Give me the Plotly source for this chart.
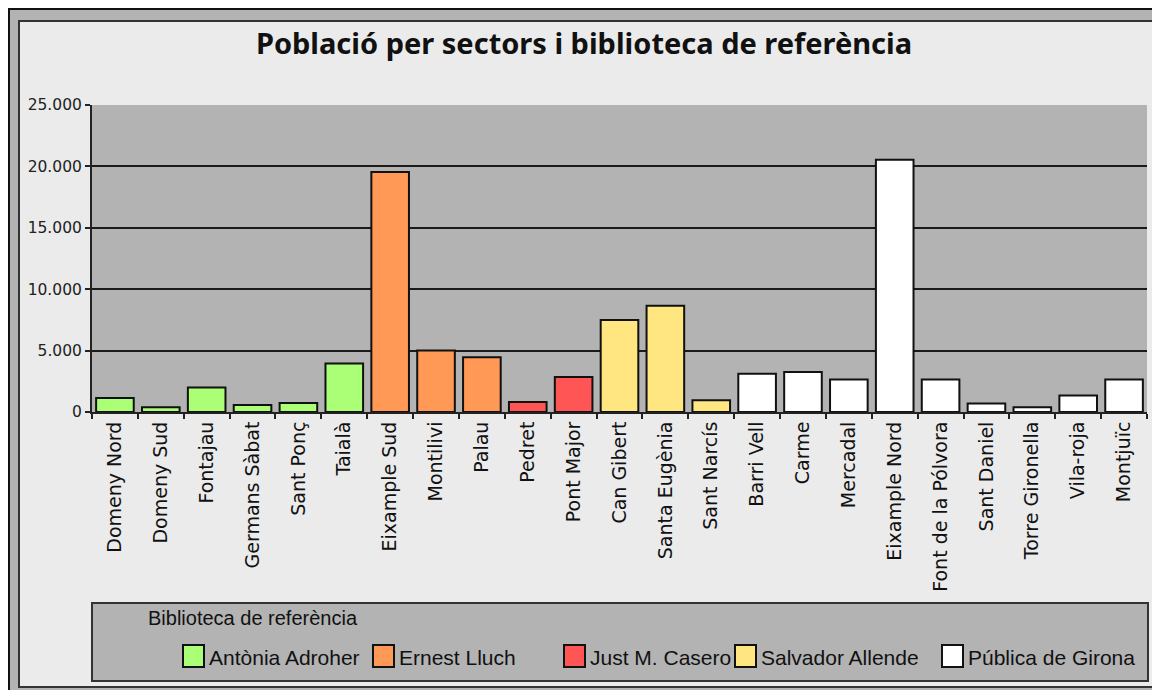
import plotly.graph_objects as go

# sectors in chart order
sectors = [
    "Domeny Nord", "Domeny Sud", "Fontajau", "Germans Sàbat", "Sant Ponç", "Taialà",
    "Eixample Sud", "Montilivi", "Palau",
    "Pedret", "Pont Major",
    "Can Gibert", "Santa Eugènia", "Sant Narcís",
    "Barri Vell", "Carme", "Mercadal", "Eixample Nord", "Font de la Pólvora",
    "Sant Daniel", "Torre Gironella", "Vila-roja", "Montjuïc",
]

# population per sector, grouped by reference library
adroher_sectors = ["Domeny Nord", "Domeny Sud", "Fontajau", "Germans Sàbat", "Sant Ponç", "Taialà"]
adroher_pop = [1150, 380, 2000, 570, 730, 3950]

lluch_sectors = ["Eixample Sud", "Montilivi", "Palau"]
lluch_pop = [19550, 5000, 4450]

casero_sectors = ["Pedret", "Pont Major"]
casero_pop = [820, 2850]

allende_sectors = ["Can Gibert", "Santa Eugènia", "Sant Narcís"]
allende_pop = [7500, 8650, 950]

girona_sectors = ["Barri Vell", "Carme", "Mercadal", "Eixample Nord", "Font de la Pólvora",
                  "Sant Daniel", "Torre Gironella", "Vila-roja", "Montjuïc"]
girona_pop = [3120, 3250, 2650, 20550, 2650, 700, 380, 1350, 2650]

libraries = ["Antònia Adroher", "Ernest Lluch", "Just M. Casero", "Salvador Allende", "Pública de Girona"]
colors = ["#AAFF77", "#FF9955", "#FF5555", "#FFE680", "#FFFFFF"]

y_ticks = [0, 5000, 10000, 15000, 20000, 25000]

groups = [
    (adroher_sectors, adroher_pop),
    (lluch_sectors, lluch_pop),
    (casero_sectors, casero_pop),
    (allende_sectors, allende_pop),
    (girona_sectors, girona_pop),
]

# page body has an 8px margin, so the figure is drawn 8px in from the corner
OFF = 8
W, H = 1160 - OFF, 690 - OFF
# plot area in screen pixels
L, R, T, B = 92, 1147, 105, 412

# legend layout (left edge of each swatch, screen pixels)
legend_swatch_x = [183, 373, 564, 735, 942]
legend_row_y = 656


def px2x(px):
    return (px - L) / (R - L)


def py2y(py):
    return (B - py) / (B - T)


fig = go.Figure()
for (xs, ys), name, col in zip(groups, libraries, colors):
    fig.add_trace(go.Bar(
        x=xs, y=ys, name=name,
        marker=dict(color=col, line=dict(color="#111111", width=2)),
        width=0.82,
    ))

shapes = [
    # outer grey border
    dict(type="rect", xref="paper", yref="paper", layer="below",
         x0=px2x(9), x1=px2x(1175), y0=py2y(9), y1=py2y(705),
         fillcolor="#B3B3B3", line=dict(color="#111111", width=2)),
    # inner light panel
    dict(type="rect", xref="paper", yref="paper", layer="below",
         x0=px2x(19), x1=px2x(1159), y0=py2y(21), y1=py2y(687),
         fillcolor="#EBEBEB", line=dict(color="#333333", width=2)),
    # plot area background
    dict(type="rect", xref="paper", yref="paper", layer="below",
         x0=0, x1=1, y0=0, y1=1,
         fillcolor="#B3B3B3", line=dict(width=0)),
    # legend box
    dict(type="rect", xref="paper", yref="paper", layer="below",
         x0=px2x(92), x1=px2x(1148), y0=py2y(603), y1=py2y(681),
         fillcolor="#B3B3B3", line=dict(color="#333333", width=2)),
]

annotations = [
    dict(text="Biblioteca de referència", xref="paper", yref="paper",
         x=px2x(146), y=py2y(618), xanchor="left", yanchor="middle",
         showarrow=False,
         font=dict(family="Liberation Sans", size=20, color="#111111")),
]

# hand-built legend: swatch + label per library
for sx, name, col in zip(legend_swatch_x, libraries, colors):
    shapes.append(dict(
        type="rect", xref="paper", yref="paper",
        x0=px2x(sx), x1=px2x(sx + 21),
        y0=py2y(legend_row_y - 11), y1=py2y(legend_row_y + 11),
        fillcolor=col, line=dict(color="#111111", width=2),
    ))
    annotations.append(dict(
        text=name, xref="paper", yref="paper",
        x=px2x(sx + 24), y=py2y(legend_row_y + 1),
        xanchor="left", yanchor="middle", showarrow=False,
        font=dict(family="Liberation Sans", size=21, color="#111111"),
    ))

fig.update_layout(
    width=W, height=H,
    margin=dict(l=L - OFF, r=W - (R - OFF), t=T - OFF, b=H - (B - OFF)),
    paper_bgcolor="#FFFFFF",
    plot_bgcolor="#B3B3B3",
    separators=",.",
    barmode="overlay",
    showlegend=False,
    shapes=shapes,
    annotations=annotations,
    title=dict(
        text="Població per sectors i biblioteca de referència",
        x=0.5, xref="container", xanchor="center",
        y=1 - (44 - OFF) / H, yref="container", yanchor="middle",
        font=dict(family="Noto Sans", size=29, color="#111111", weight="bold"),
    ),
    xaxis=dict(
        categoryorder="array", categoryarray=sectors,
        range=[-0.5, len(sectors) - 0.5],
        tickangle=-90, tickson="boundaries", ticks="outside", ticklen=5,
        tickcolor="#222222", tickwidth=2,
        showline=True, linecolor="#222222", linewidth=2,
        showgrid=False, automargin=False,
        tickfont=dict(family="DejaVu Sans", size=19, color="#111111"),
    ),
    yaxis=dict(
        range=[0, 25000], tickvals=y_ticks, tickformat=",d",
        ticks="outside", ticklen=5, tickcolor="#222222", tickwidth=2,
        showline=True, linecolor="#222222", linewidth=2,
        showgrid=True, gridcolor="#1A1A1A", gridwidth=2,
        zeroline=False, automargin=False,
        tickfont=dict(family="DejaVu Sans", size=15.5, color="#222222"),
    ),
)

fig.write_html("out.html")
